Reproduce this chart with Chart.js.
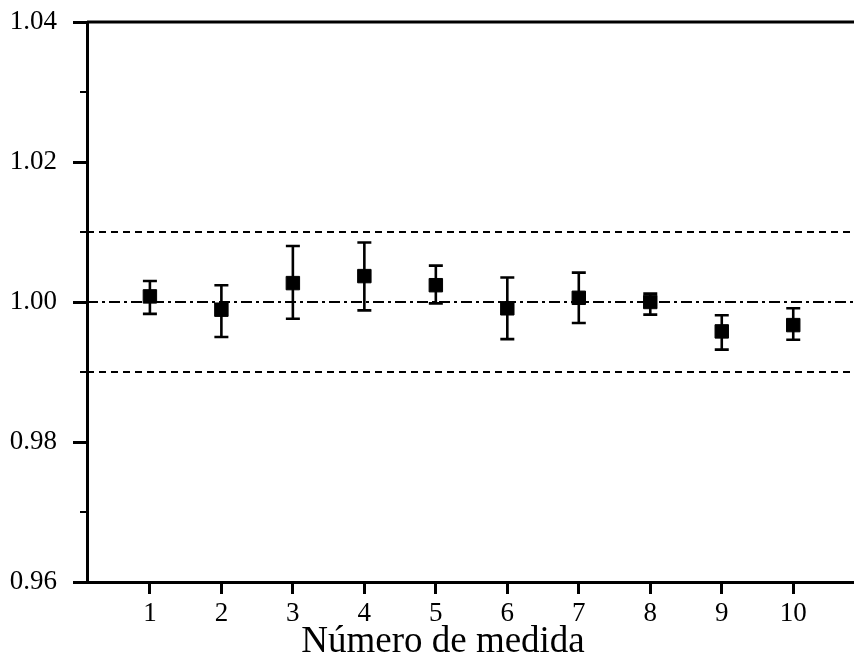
<!DOCTYPE html>
<html>
<head>
<meta charset="utf-8">
<script src="https://cdn.jsdelivr.net/npm/chart.js@4/dist/chart.umd.min.js"></script>
<style>
  html, body { margin: 0; padding: 0; background: #fff; }
  #wrap { width: 854px; height: 668px; }
</style>
</head>
<body>
<div id="wrap"><canvas id="medidas" width="854" height="668"></canvas></div>
<script>
// data
const measures  = [1, 2, 3, 4, 5, 6, 7, 8, 9, 10];
const values    = [1.0008, 0.9989, 1.0027, 1.0037, 1.0024, 0.9991, 1.0006, 1.0000, 0.9958, 0.9967];
const errHigh   = [1.0030, 1.0024, 1.0080, 1.0085, 1.0052, 1.0035, 1.0042, 1.0012, 0.9981, 0.9991];
const errLow    = [0.9983, 0.9950, 0.9976, 0.9988, 0.9998, 0.9947, 0.9970, 0.9982, 0.9932, 0.9946];
const yTicks    = [0.96, 0.98, 1.00, 1.02, 1.04];
const yMinor    = [0.97, 0.99, 1.01, 1.03];
const xTicks    = [1, 2, 3, 4, 5, 6, 7, 8, 9, 10];
const dashLines = [0.99, 1.01];   // tolerance band
const refLine   = 1.00;
const xTitle    = 'Número de medida';

const serif = "'Liberation Serif', 'DejaVu Serif', serif";

// error bars, reference lines, minor ticks, top frame, axis title
const extrasPlugin = {
  id: 'extras',
  beforeDatasetsDraw(chart) {
    const { ctx, chartArea: a, scales: { x, y } } = chart;
    ctx.save();
    ctx.strokeStyle = '#000';
    ctx.lineWidth = 2.2;

    ctx.setLineDash([7, 5]);
    dashLines.forEach(v => {
      const py = y.getPixelForValue(v);
      ctx.beginPath(); ctx.moveTo(a.left, py); ctx.lineTo(a.right, py); ctx.stroke();
    });

    ctx.setLineDash([11, 4, 3, 4]);
    const ry = y.getPixelForValue(refLine);
    ctx.beginPath(); ctx.moveTo(a.left, ry); ctx.lineTo(a.right, ry); ctx.stroke();
    ctx.setLineDash([]);

    // error bars
    ctx.lineWidth = 2.6;
    measures.forEach((m, i) => {
      const px = x.getPixelForValue(m);
      const hi = y.getPixelForValue(errHigh[i]);
      const lo = y.getPixelForValue(errLow[i]);
      ctx.beginPath();
      ctx.moveTo(px, hi); ctx.lineTo(px, lo);
      ctx.moveTo(px - 7, hi); ctx.lineTo(px + 7, hi);
      ctx.moveTo(px - 7, lo); ctx.lineTo(px + 7, lo);
      ctx.stroke();
    });

    // top frame line
    ctx.lineWidth = 3;
    ctx.beginPath(); ctx.moveTo(a.left, a.top); ctx.lineTo(a.right, a.top); ctx.stroke();

    // minor ticks on the y axis
    ctx.lineWidth = 2;
    yMinor.forEach(v => {
      const py = y.getPixelForValue(v);
      ctx.beginPath(); ctx.moveTo(a.left - 7, py); ctx.lineTo(a.left, py); ctx.stroke();
    });
    ctx.restore();
  },
  afterDraw(chart) {
    const { ctx } = chart;
    ctx.save();
    ctx.fillStyle = '#000';
    ctx.font = '37px ' + serif;
    ctx.textAlign = 'center';
    ctx.textBaseline = 'middle';
    ctx.fillText(xTitle, 443, 642);
    ctx.restore();
  }
};

new Chart(document.getElementById('medidas'), {
  type: 'scatter',
  data: {
    datasets: [{
      data: measures.map((m, i) => ({ x: m, y: values[i] })),
      pointStyle: 'rect',
      pointRadius: 9.5,
      pointBackgroundColor: '#000',
      pointBorderColor: '#000',
      pointBorderWidth: 1,
      showLine: false
    }]
  },
  options: {
    responsive: false,
    animation: false,
    layout: { autoPadding: false, padding: { top: 22, right: 0, bottom: 0, left: 0 } },
    plugins: { legend: { display: false }, tooltip: { enabled: false } },
    scales: {
      x: {
        type: 'linear',
        min: 0.12,
        max: 10.85,
        afterBuildTicks: scale => { scale.ticks = xTicks.map(v => ({ value: v })); },
        afterFit: scale => {
          scale.height = 86;
          scale.paddingLeft = 0; scale.paddingRight = 0;
        },
        grid: { drawOnChartArea: false, drawTicks: true, tickLength: 12, tickWidth: 3, tickColor: '#000' },
        border: { color: '#000', width: 3 },
        ticks: { color: '#000', font: { family: serif, size: 27 }, padding: 4, maxRotation: 0 }
      },
      y: {
        min: 0.96,
        max: 1.04,
        afterBuildTicks: scale => { scale.ticks = yTicks.map(v => ({ value: v })); },
        afterFit: scale => {
          scale.width = 87;
          scale.paddingTop = 0; scale.paddingBottom = 0;
        },
        grid: { drawOnChartArea: false, drawTicks: true, tickLength: 14, tickWidth: 3, tickColor: '#000' },
        border: { color: '#000', width: 3 },
        ticks: { color: '#000', font: { family: serif, size: 27 }, padding: 16,
                 callback: v => v.toFixed(2) }
      }
    }
  },
  plugins: [extrasPlugin]
});
</script>
</body>
</html>
